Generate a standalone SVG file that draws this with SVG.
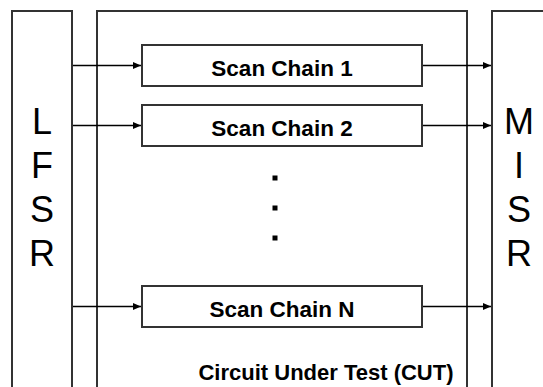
<svg xmlns="http://www.w3.org/2000/svg" width="543" height="387" viewBox="0 0 543 387">
  <defs>
    <marker id="arrow" viewBox="0 0 8 7" refX="8" refY="3.5" markerWidth="8" markerHeight="7" markerUnits="userSpaceOnUse" orient="auto">
      <path d="M0,0 L8,3.5 L0,7 Z" fill="#000"/>
    </marker>
  </defs>
  <style>
    .frame { fill: #fff; stroke: #333; stroke-width: 2; }
    .chain { fill: #fff; stroke: #333; stroke-width: 2; }
    .wire { fill: none; stroke: #000; stroke-width: 1.5; marker-end: url(#arrow); }
    .big { font-family: "Liberation Sans", Arial, sans-serif; font-size: 36px; fill: #000; text-anchor: middle; }
    .label { font-family: "Liberation Sans", Arial, sans-serif; font-size: 22.5px; font-weight: bold; fill: #000; text-anchor: middle; }
  </style>
  <rect width="543" height="387" fill="#fff"/>

  <g id="lfsr">
    <rect class="frame" x="12" y="11" width="60" height="390"/>
    <text class="big" x="42" y="134">L</text>
    <text class="big" x="42" y="178">F</text>
    <text class="big" x="42" y="222">S</text>
    <text class="big" x="42" y="266">R</text>
  </g>

  <g id="cut">
    <rect class="frame" x="97" y="11" width="370" height="390"/>
    <text class="label" x="326" y="380" style="font-size:22px">Circuit Under Test (CUT)</text>
  </g>

  <g id="misr">
    <rect class="frame" x="492" y="11" width="70" height="390"/>
    <text class="big" x="519" y="134">M</text>
    <text class="big" x="519" y="178">I</text>
    <text class="big" x="519" y="222">S</text>
    <text class="big" x="519" y="266">R</text>
  </g>

  <g id="chain1">
    <rect class="chain" x="142" y="45" width="280" height="41"/>
    <text class="label" x="282" y="76">Scan Chain 1</text>
  </g>
  <g id="chain2">
    <rect class="chain" x="142" y="105" width="280" height="41"/>
    <text class="label" x="282" y="136">Scan Chain 2</text>
  </g>
  <g id="ellipsis">
    <rect x="272.5" y="175.5" width="5" height="5" fill="#000"/>
    <rect x="272.5" y="205.5" width="5" height="5" fill="#000"/>
    <rect x="272.5" y="235.5" width="5" height="5" fill="#000"/>
  </g>
  <g id="chainN">
    <rect class="chain" x="142" y="286" width="280" height="41"/>
    <text class="label" x="282" y="317">Scan Chain N</text>
  </g>

  <g id="connectors">
    <line class="wire" x1="73" y1="65.5" x2="141" y2="65.5"/>
    <line class="wire" x1="73" y1="125.5" x2="141" y2="125.5"/>
    <line class="wire" x1="73" y1="306.5" x2="141" y2="306.5"/>
    <line class="wire" x1="423" y1="65.5" x2="491" y2="65.5"/>
    <line class="wire" x1="423" y1="125.5" x2="491" y2="125.5"/>
    <line class="wire" x1="423" y1="306.5" x2="491" y2="306.5"/>
  </g>
</svg>
